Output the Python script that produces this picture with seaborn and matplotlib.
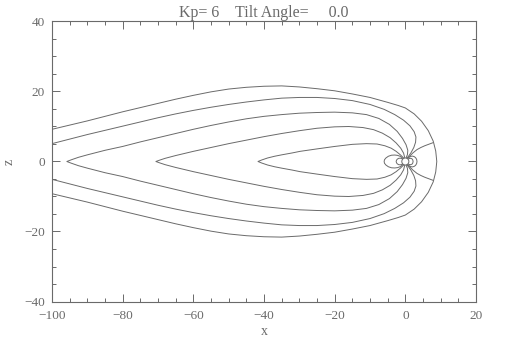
import numpy as np
import pandas as pd
import matplotlib
matplotlib.use("Agg")
import matplotlib.pyplot as plt
from matplotlib.patches import Circle
from matplotlib.ticker import MultipleLocator
import seaborn as sns

# field lines, northern half only (tilt = 0, so south is the mirror)
# A: outermost line, tail -> dayside nose
a_x = [-100, -95, -90, -85, -80, -75, -70, -65, -60, -55, -50, -45, -40, -35, -30, -25,
       -20, -15, -10, -5, -2, 0, 2.5, 4.6, 6.5, 7.9, 8.6, 8.9]
a_z = [9.2, 10.4, 11.6, 12.9, 14.2, 15.4, 16.6, 17.8, 18.9, 19.9, 20.7, 21.2, 21.5, 21.6,
       21.3, 20.8, 20.2, 19.3, 18.3, 16.9, 16.0, 15.3, 13.6, 11.5, 8.8, 5.8, 3.0, 0]

# B: open tail line into the polar cap
b_x = [-100, -95, -90, -85, -80, -75, -70, -65, -60, -55, -50, -45, -40, -35, -30, -25,
       -20, -15, -10, -6, -3, -0.5, 1.3, 2.5, 3.0, 2.9, 2.4, 1.6, 0.9, 0.4]
b_z = [5.1, 6.4, 7.7, 8.9, 10.1, 11.3, 12.5, 13.6, 14.6, 15.5, 16.3, 17.0, 17.6, 18.1,
       18.3, 18.3, 18.0, 17.4, 16.3, 14.9, 13.4, 11.8, 10.2, 8.5, 7.0, 5.5, 4.0, 2.5, 1.5, 0.95]

# C, D, E: closed night-side lines (tips at -95.8, -70.6, -41.7)
c_x = [-95.8, -94.5, -92.5, -90, -85, -80, -75, -70, -65, -60, -55, -50, -45, -40, -35,
       -30, -25, -20, -15, -11, -7.5, -4.5, -2.3, -0.8, 0.2, 0.7, 0.6, 0.2]
c_z = [0, 0.5, 1.2, 1.9, 3.2, 4.3, 5.6, 6.8, 8.0, 9.2, 10.3, 11.3, 12.2, 12.9, 13.4,
       13.8, 14.0, 14.1, 13.9, 13.4, 12.3, 10.6, 8.6, 6.6, 4.8, 3.2, 2.0, 0.98]

d_x = [-70.6, -69.5, -68, -65, -60, -55, -50, -45, -40, -35, -30, -25, -20, -16, -12,
       -9, -6.5, -4.3, -2.6, -1.3, -0.5, -0.15]
d_z = [0, 0.4, 0.9, 1.7, 2.9, 4.0, 5.1, 6.1, 7.1, 8.0, 8.8, 9.5, 9.9, 10.0, 9.7,
       9.1, 8.1, 6.8, 5.3, 3.8, 2.4, 0.99]

e_x = [-41.7, -40.6, -39, -37, -35, -32, -29.8, -25, -20, -15, -11, -8, -5.8, -4, -2.6, -1.4, -0.4]
e_z = [0, 0.45, 1.0, 1.5, 1.9, 2.45, 2.9, 3.6, 4.3, 4.9, 5.1, 5.0, 4.5, 3.8, 2.9, 1.9, 0.92]

# short day-side line from Earth to the boundary
f_x = [0.55, 1.2, 2.2, 3.3, 4.4, 5.5, 6.7, 7.9]
f_z = [0.83, 1.5, 2.5, 3.4, 4.0, 4.5, 4.95, 5.4]

# small loops near Earth
d1_x = [0.6, 1.0, 1.5, 2.0, 2.5, 2.9, 3.2, 3.3]
d1_z = [0.8, 1.15, 1.45, 1.55, 1.4, 1.1, 0.6, 0]
d2_x = [0.75, 1.1, 1.5, 1.9, 2.1, 2.2]
d2_z = [0.66, 0.85, 0.92, 0.75, 0.45, 0]
n1_x = [-0.6, -1.0, -1.5, -2.2, -3.0, -3.9, -4.8, -5.5, -5.9, -6.0]
n1_z = [0.8, 1.15, 1.5, 1.75, 1.85, 1.8, 1.5, 1.0, 0.5, 0]
n2_x = [-0.75, -1.1, -1.5, -1.9, -2.3, -2.5, -2.6]
n2_z = [0.66, 0.88, 0.95, 0.9, 0.65, 0.35, 0]


def closed(name, xs, zs, tip_first):
    # join northern half with its mirror into one line
    xs, zs = list(xs), list(zs)
    if tip_first:
        x = xs[::-1] + xs[1:]
        z = zs[::-1] + [-v for v in zs[1:]]
    else:
        x = xs + xs[::-1][1:]
        z = zs + [-v for v in zs[::-1][1:]]
    return pd.DataFrame({"x": x, "z": z, "line": name})


def half(name, xs, zs):
    n = pd.DataFrame({"x": xs, "z": zs, "line": name + "_n"})
    s = pd.DataFrame({"x": xs, "z": [-v for v in zs], "line": name + "_s"})
    return [n, s]


parts = [
    closed("A", a_x, a_z, tip_first=False),
    closed("C", c_x, c_z, tip_first=True),
    closed("D", d_x, d_z, tip_first=True),
    closed("E", e_x, e_z, tip_first=True),
    closed("d1", d1_x, d1_z, tip_first=False),
    closed("d2", d2_x, d2_z, tip_first=False),
    closed("n1", n1_x, n1_z, tip_first=False),
    closed("n2", n2_x, n2_z, tip_first=False),
]
parts += half("B", b_x, b_z)
parts += half("F", f_x, f_z)
df = pd.concat(parts, ignore_index=True)

sns.set_style("ticks")
plt.rcParams["font.family"] = ["Liberation Serif", "DejaVu Serif"]
gray = "#6a6a6a"

fig = plt.figure(figsize=(5.1, 3.54), dpi=100)
ax = fig.add_axes([52 / 510, 1 - 301.5 / 354, 424 / 510, 280 / 354])

sns.lineplot(data=df, x="x", y="z", units="line", estimator=None, sort=False,
             color=gray, linewidth=0.7, solid_joinstyle="round", ax=ax)
ax.add_patch(Circle((0, 0), 1.0, facecolor="white", edgecolor=gray, linewidth=0.7, zorder=5))

ax.set_xlim(-100, 20)
ax.set_ylim(-40, 40)
ax.xaxis.set_major_locator(MultipleLocator(20))
ax.xaxis.set_minor_locator(MultipleLocator(5))
ax.yaxis.set_major_locator(MultipleLocator(20))
ax.yaxis.set_minor_locator(MultipleLocator(5))
ax.tick_params(which="both", direction="in", top=True, right=True, colors=gray,
               labelsize=9.5, width=0.7)
ax.tick_params(which="major", length=6)
ax.tick_params(which="minor", length=3)
ax.tick_params(axis="x", pad=6)
ax.tick_params(axis="y", pad=5)
for sp in ax.spines.values():
    sp.set_color(gray)
    sp.set_linewidth(0.8)

ax.set_xlabel("x", color=gray, fontsize=10)
ax.set_ylabel("z", color=gray, fontsize=10)
ax.xaxis.set_label_coords(0.5, -0.085)
ax.yaxis.set_label_coords(-0.085, 0.5)
ax.set_title("Kp= 6    Tilt Angle=     0.0", color=gray, fontsize=11.5, pad=3)

fig.savefig("out.png", dpi=100)
